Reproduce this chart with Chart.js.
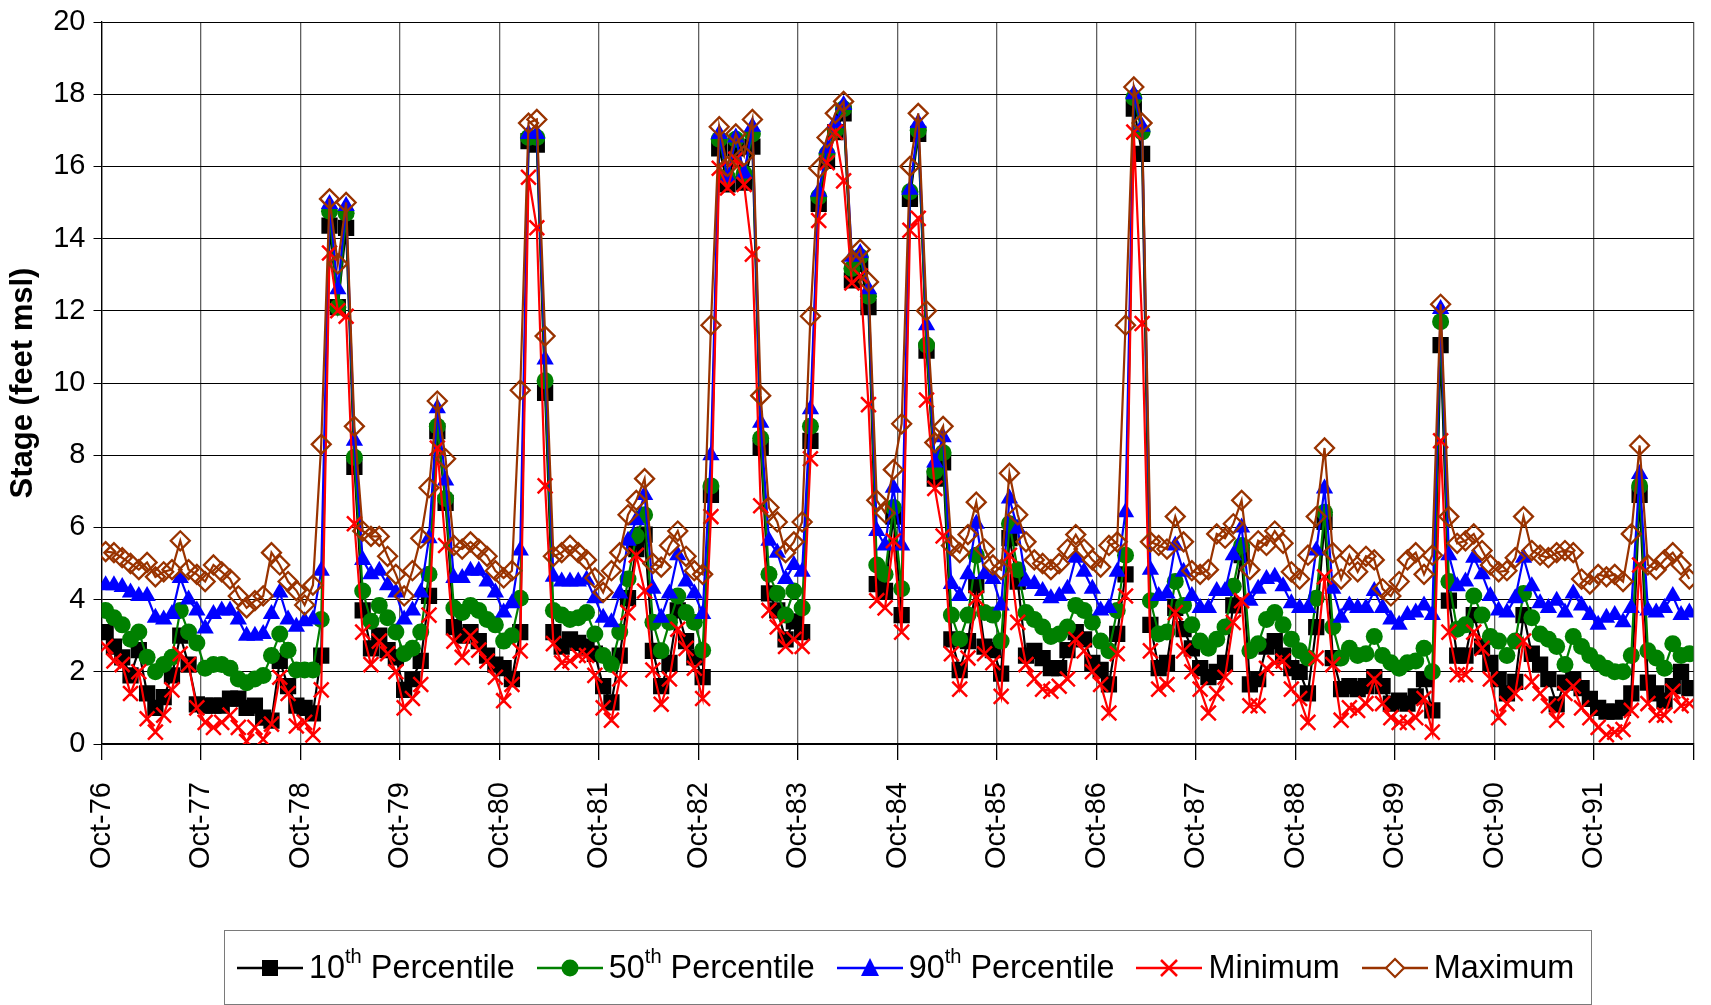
<!DOCTYPE html>
<html>
<head>
<meta charset="utf-8">
<title>Stage percentiles</title>
<script src="https://cdn.jsdelivr.net/npm/chart.js@4.4.0/dist/chart.umd.min.js"></script>
<style>
  html, body { margin: 0; padding: 0; background: #fff; }
  #wrap { position: relative; width: 1711px; height: 1005px; }
  #c { position: absolute; left: 0; top: 0; }
  #legend {
    position: absolute; left: 224px; top: 930px; width: 1368px; height: 75px;
    box-sizing: border-box; border: 1.5px solid #7a7a7a;
    display: flex; align-items: center; padding-left: 12px;
    font-family: 'Liberation Sans', Arial, sans-serif; font-size: 32.4px; color: #000;
  }
  .item { display: flex; align-items: center; margin-right: 22px; white-space: nowrap; }
  .item svg { margin-right: 6px; }
  sup { font-size: 0.62em; position: relative; top: -0.15em; vertical-align: super; line-height: 0; }
</style>
</head>
<body>
<div id="wrap">
  <canvas id="c" width="1711" height="1005"></canvas>
  <div id="legend">
    <div class="item"><svg width="66" height="26"><line x1="0" y1="13" x2="66" y2="13" stroke="#000" stroke-width="2.5"/><rect x="25" y="5" width="16" height="16" fill="#000"/></svg><span>10<sup>th</sup> Percentile</span></div>
    <div class="item"><svg width="66" height="26"><line x1="0" y1="13" x2="66" y2="13" stroke="#008000" stroke-width="2.5"/><circle cx="33" cy="13" r="8.5" fill="#008000"/></svg><span>50<sup>th</sup> Percentile</span></div>
    <div class="item"><svg width="66" height="26"><line x1="0" y1="13" x2="66" y2="13" stroke="#0000ff" stroke-width="2.5"/><polygon points="33,3 42,21 24,21" fill="#0000ff"/></svg><span>90<sup>th</sup> Percentile</span></div>
    <div class="item"><svg width="66" height="26"><line x1="0" y1="13" x2="66" y2="13" stroke="#ff0000" stroke-width="2.5"/><line x1="25" y1="5" x2="41" y2="21" stroke="#ff0000" stroke-width="2.5"/><line x1="25" y1="21" x2="41" y2="5" stroke="#ff0000" stroke-width="2.5"/></svg><span>Minimum</span></div>
    <div class="item"><svg width="66" height="26"><line x1="0" y1="13" x2="24" y2="13" stroke="#993300" stroke-width="2.5"/><line x1="42" y1="13" x2="66" y2="13" stroke="#993300" stroke-width="2.5"/><polygon points="33,4 42,13 33,22 24,13" fill="#fff" stroke="#993300" stroke-width="2.2"/></svg><span>Maximum</span></div>
  </div>
</div>
<script>
// x-axis labels, one per water year (every 12 months)
var tickLabels = ['Oct-76', 'Oct-77', 'Oct-78', 'Oct-79', 'Oct-80', 'Oct-81', 'Oct-82', 'Oct-83',
                  'Oct-84', 'Oct-85', 'Oct-86', 'Oct-87', 'Oct-88', 'Oct-89', 'Oct-90', 'Oct-91'];

// monthly stage, feet msl, Oct-76 .. Sep-92 (one row per year)
var p10 = [
  3.1, 2.7, 2.4, 1.9, 2.6, 1.4, 1.0, 1.3, 1.9, 3.0, 2.2, 1.1,
  1.06, 1.06, 1.06, 1.26, 1.26, 1.0, 1.06, 0.73, 0.65, 2.3, 1.6, 1.06,
  1.0, 0.85, 2.45, 14.36, 12.1, 14.3, 7.68, 3.7, 2.65, 3.0, 2.6, 2.4,
  1.5, 1.8, 2.3, 4.1, 8.67, 6.68, 3.24, 3.0, 3.1, 2.85, 2.45, 2.2,
  2.1, 1.8, 3.1, 16.7, 16.6, 9.73, 3.1, 2.7, 2.9, 2.8, 2.7, 2.5,
  1.6, 1.15, 2.45, 4.04, 5.4, 5.8, 2.58, 1.6, 2.25, 3.7, 2.85, 2.4,
  1.85, 6.9, 16.5, 15.5, 16.5, 15.55, 16.55, 8.2, 4.17, 3.7, 2.9, 3.4,
  3.1, 8.4, 14.96, 16.15, 16.95, 17.47, 12.84, 13.3, 12.1, 4.43, 4.24, 6.3,
  3.57, 15.1, 16.9, 10.9, 7.35, 7.8, 2.9, 2.05, 2.85, 4.4, 2.7, 2.6,
  1.95, 5.7, 4.5, 2.45, 2.58, 2.38, 2.1, 2.1, 2.6, 3.1, 2.9, 2.25,
  2.05, 1.65, 3.05, 4.7, 17.6, 16.35, 3.3, 2.1, 2.25, 3.77, 3.18, 2.65,
  2.1, 1.85, 2.0, 2.25, 3.84, 5.23, 1.65, 1.8, 2.7, 2.85, 2.45, 2.1,
  2.0, 1.4, 3.24, 6.15, 2.38, 1.52, 1.6, 1.52, 1.6, 1.85, 1.6, 1.12,
  1.2, 1.12, 1.32, 1.8, 0.93, 11.05, 3.97, 2.45, 2.45, 3.57, 2.7, 2.25,
  1.8, 1.4, 1.72, 3.57, 2.5, 2.2, 1.8, 1.1, 1.7, 1.8, 1.55, 1.25,
  1.0, 0.9, 0.9, 1.0, 1.4, 6.9, 1.7, 1.4, 1.2, 1.6, 2.0, 1.55
];

var p50 = [
  3.7, 3.5, 3.3, 2.9, 3.1, 2.4, 2.0, 2.2, 2.4, 3.7, 3.1, 2.8,
  2.1, 2.2, 2.2, 2.1, 1.8, 1.7, 1.8, 1.9, 2.45, 3.05, 2.6, 2.05,
  2.05, 2.05, 3.45, 14.76, 12.1, 14.7, 7.94, 4.24, 3.4, 3.84, 3.5, 3.1,
  2.5, 2.65, 3.1, 4.7, 8.8, 6.8, 3.77, 3.64, 3.84, 3.7, 3.45, 3.3,
  2.85, 3.0, 4.04, 16.8, 16.8, 10.06, 3.7, 3.57, 3.45, 3.5, 3.64, 3.05,
  2.45, 2.2, 3.1, 4.57, 5.76, 6.35, 3.37, 2.58, 3.37, 4.1, 3.64, 3.37,
  2.6, 7.15, 16.75, 15.7, 16.75, 15.8, 16.9, 8.47, 4.7, 4.17, 3.57, 4.24,
  3.77, 8.8, 15.16, 16.35, 17.0, 17.6, 13.17, 13.5, 12.4, 4.96, 4.7, 6.55,
  4.3, 15.3, 17.0, 11.05, 7.55, 8.07, 3.57, 2.9, 3.57, 5.23, 3.64, 3.57,
  2.85, 6.1, 4.83, 3.64, 3.45, 3.24, 2.98, 3.05, 3.24, 3.84, 3.7, 3.37,
  2.85, 2.58, 3.7, 5.23, 17.9, 16.95, 3.97, 3.05, 3.1, 4.5, 3.84, 3.3,
  2.85, 2.65, 2.9, 3.24, 4.37, 5.5, 2.58, 2.78, 3.45, 3.64, 3.3, 2.9,
  2.58, 2.38, 4.04, 6.42, 3.24, 2.38, 2.65, 2.45, 2.5, 2.98, 2.45, 2.25,
  2.1, 2.25, 2.3, 2.65, 2.0, 11.7, 4.5, 3.18, 3.3, 4.1, 3.57, 2.98,
  2.85, 2.45, 2.85, 4.17, 3.5, 3.05, 2.9, 2.7, 2.2, 2.98, 2.7, 2.45,
  2.25, 2.1, 2.0, 2.0, 2.45, 7.15, 2.58, 2.38, 2.1, 2.78, 2.45, 2.5
];

var p90 = [
  4.4, 4.4, 4.35, 4.2, 4.1, 4.1, 3.5, 3.45, 3.6, 4.6, 4.0, 3.7,
  3.2, 3.6, 3.7, 3.7, 3.45, 3.0, 3.0, 3.05, 3.6, 4.2, 3.45, 3.25,
  3.4, 3.45, 4.8, 14.96, 12.6, 14.9, 8.4, 5.1, 4.7, 4.8, 4.4, 4.2,
  3.45, 3.7, 4.2, 5.7, 9.3, 7.3, 4.6, 4.6, 4.8, 4.8, 4.5, 4.2,
  3.64, 3.9, 5.36, 16.9, 16.9, 10.65, 4.63, 4.5, 4.5, 4.5, 4.55, 4.04,
  3.5, 3.37, 4.17, 5.63, 6.2, 6.9, 4.3, 3.5, 4.17, 5.23, 4.5, 4.17,
  3.6, 8.0, 16.9, 15.7, 16.8, 15.8, 17.1, 8.9, 5.63, 5.3, 4.57, 4.96,
  4.77, 9.27, 15.3, 16.5, 17.2, 17.7, 13.5, 13.6, 12.6, 5.9, 5.5, 7.1,
  5.5, 15.35, 17.2, 11.6, 7.8, 8.5, 4.43, 4.1, 4.7, 6.1, 4.7, 4.57,
  3.84, 6.8, 5.96, 4.5, 4.43, 4.24, 4.04, 4.1, 4.3, 5.16, 4.77, 4.3,
  3.7, 3.77, 4.77, 6.42, 18.0, 17.1, 4.83, 4.1, 4.17, 5.5, 4.77, 4.1,
  3.77, 3.77, 4.24, 4.24, 5.23, 6.0, 3.97, 4.3, 4.57, 4.63, 4.37, 3.9,
  3.77, 3.77, 5.36, 7.08, 4.3, 3.5, 3.84, 3.77, 3.77, 4.24, 3.77, 3.45,
  3.3, 3.57, 3.64, 3.84, 3.57, 12.05, 5.23, 4.37, 4.5, 5.16, 4.7, 4.1,
  3.7, 3.64, 4.04, 5.16, 4.37, 3.9, 3.77, 3.97, 3.64, 4.17, 3.84, 3.57,
  3.3, 3.5, 3.57, 3.37, 3.77, 7.48, 3.7, 3.64, 3.77, 4.1, 3.57, 3.64
];

var minimum = [
  2.7, 2.3, 2.2, 1.4, 2.0, 0.7, 0.33, 0.8, 1.5, 2.5, 2.2, 1.0,
  0.6, 0.46, 0.6, 0.8, 0.46, 0.07, 0.46, 0.13, 0.55, 1.85, 1.4, 0.5,
  0.6, 0.25, 1.5, 13.6, 12.0, 11.85, 6.1, 3.1, 2.2, 2.85, 2.5, 2.0,
  1.0, 1.26, 1.65, 3.57, 8.2, 5.5, 2.85, 2.4, 3.0, 2.6, 2.3, 1.85,
  1.2, 1.65, 2.58, 15.7, 14.3, 7.15, 2.78, 2.25, 2.3, 2.45, 2.45, 1.9,
  1.0, 0.66, 1.8, 3.64, 5.23, 4.24, 2.05, 1.1, 1.8, 3.18, 2.65, 2.1,
  1.26, 6.3, 15.95, 15.4, 16.2, 15.5, 13.57, 6.6, 3.7, 3.24, 2.7, 2.9,
  2.7, 7.9, 14.5, 16.1, 16.95, 15.6, 12.77, 12.97, 9.4, 3.97, 3.77, 5.63,
  3.1, 14.23, 14.56, 9.53, 7.08, 5.76, 2.5, 1.52, 2.38, 4.04, 2.5, 2.25,
  1.32, 5.23, 3.37, 2.2, 1.8, 1.52, 1.46, 1.6, 1.8, 2.9, 2.58, 2.0,
  1.65, 0.86, 2.5, 4.1, 16.95, 11.65, 2.58, 1.52, 1.65, 3.64, 2.58, 2.0,
  1.52, 0.86, 1.4, 1.85, 3.37, 3.97, 1.06, 1.06, 2.1, 2.25, 2.3, 1.52,
  1.26, 0.6, 2.38, 4.63, 2.2, 0.66, 1.0, 0.93, 1.12, 1.8, 1.12, 0.73,
  0.6, 0.6, 0.73, 1.26, 0.33, 8.4, 3.1, 1.92, 1.92, 3.1, 2.65, 1.8,
  0.73, 1.12, 1.4, 2.85, 1.72, 1.4, 1.06, 0.66, 1.4, 1.6, 1.0, 0.73,
  0.46, 0.26, 0.33, 0.4, 0.93, 4.96, 1.12, 0.8, 0.8, 1.46, 1.06, 1.12
];

var maximum = [
  5.33, 5.3, 5.16, 5.0, 4.83, 5.03, 4.63, 4.77, 4.83, 5.63, 4.83, 4.7,
  4.5, 4.96, 4.77, 4.57, 4.1, 3.77, 3.97, 4.1, 5.3, 4.96, 4.5, 4.25,
  3.85, 4.4, 8.3, 15.1, 13.3, 15.0, 8.8, 5.9, 5.75, 5.75, 5.2, 4.7,
  4.1, 4.8, 5.7, 7.1, 9.5, 7.9, 5.5, 5.4, 5.6, 5.4, 5.2, 4.8,
  4.6, 4.8, 9.8, 17.2, 17.3, 11.3, 5.2, 5.3, 5.5, 5.3, 5.1, 4.6,
  4.2, 4.8, 5.3, 6.35, 6.75, 7.35, 5.0, 4.9, 5.5, 5.9, 5.2, 4.8,
  4.7, 11.6, 17.1, 16.0, 16.9, 16.3, 17.3, 9.65, 6.55, 6.15, 5.3, 5.6,
  6.15, 11.85, 15.95, 16.8, 17.47, 17.8, 13.37, 13.7, 12.8, 6.75, 6.4, 7.6,
  8.87, 16.0, 17.47, 12.0, 8.35, 8.8, 5.5, 5.3, 5.8, 6.7, 5.4, 4.96,
  4.83, 7.5, 6.35, 5.6, 5.1, 5.0, 4.83, 5.0, 5.4, 5.8, 5.4, 5.1,
  4.9, 5.5, 5.6, 11.6, 18.2, 17.2, 5.6, 5.5, 5.4, 6.3, 5.6, 4.8,
  4.7, 4.83, 5.82, 5.7, 6.1, 6.75, 4.83, 5.63, 5.5, 5.9, 5.56, 4.77,
  4.57, 5.23, 6.3, 8.2, 5.3, 4.57, 5.23, 4.77, 5.2, 5.1, 4.3, 4.1,
  4.5, 5.1, 5.3, 4.7, 5.23, 12.18, 6.3, 5.56, 5.63, 5.82, 5.36, 4.96,
  4.77, 4.8, 5.16, 6.3, 5.36, 5.23, 5.16, 5.3, 5.36, 5.3, 4.57, 4.43,
  4.7, 4.63, 4.7, 4.5, 5.82, 8.27, 4.96, 4.83, 5.1, 5.3, 4.96, 4.57
];

// months sit in the middle of their slot on the time axis
function monthly(values) {
  return values.map(function (v, i) { return { x: i + 0.5, y: v }; });
}

var fontFamily = "'Liberation Sans', Arial, sans-serif";

var chart = new Chart(document.getElementById('c'), {
  type: 'line',
  data: {
    datasets: [
      {
        label: '10th Percentile', data: monthly(p10), order: 5,
        borderColor: '#000000', backgroundColor: '#000000', borderWidth: 2.2,
        pointStyle: 'rect', pointRadius: 11.5, pointBorderWidth: 0
      },
      {
        label: '50th Percentile', data: monthly(p50), order: 4,
        borderColor: '#008000', backgroundColor: '#008000', borderWidth: 2.2,
        pointStyle: 'circle', pointRadius: 8.5, pointBorderWidth: 0
      },
      {
        label: '90th Percentile', data: monthly(p90), order: 3,
        borderColor: '#0000ff', backgroundColor: '#0000ff', borderWidth: 2.2,
        pointStyle: 'triangle', pointRadius: 10, pointBorderWidth: 0
      },
      {
        label: 'Minimum', data: monthly(minimum), order: 2,
        borderColor: '#ff0000', backgroundColor: '#ff0000', borderWidth: 2.2,
        pointStyle: 'crossRot', pointRadius: 10.5, pointBorderWidth: 2.5
      },
      {
        label: 'Maximum', data: monthly(maximum), order: 1,
        borderColor: '#993300', backgroundColor: 'rgba(255,255,255,0)', borderWidth: 2.2,
        pointStyle: 'rectRot', pointRadius: 9.5, pointBorderWidth: 2.3
      }
    ]
  },
  options: {
    responsive: false,
    animation: false,
    layout: { padding: { top: 22, right: 17.5, bottom: 0, left: 0 } },
    plugins: {
      legend: { display: false },
      tooltip: { enabled: false }
    },
    elements: { line: { tension: 0 } },
    scales: {
      x: {
        type: 'linear', min: 0, max: 192,
        ticks: {
          stepSize: 12, autoSkip: false, minRotation: 90, maxRotation: 90,
          padding: 22, color: '#000',
          font: { family: fontFamily, size: 29 },
          callback: function (v) { return tickLabels[v / 12] || ''; }
        },
        grid: { color: '#606060', lineWidth: 1.3, tickLength: 16, tickColor: '#000' },
        border: { color: '#000', width: 1.3 },
        afterFit: function (scale) {
          scale.height = 1005 - 744;
          scale.paddingLeft = 0;
          scale.paddingRight = 0;
        }
      },
      y: {
        min: 0, max: 20,
        ticks: {
          stepSize: 2, padding: 8, color: '#000',
          font: { family: fontFamily, size: 29 }
        },
        grid: { color: '#000', lineWidth: 1, tickLength: 8 },
        border: { color: '#000', width: 1.3 },
        title: {
          display: true, text: 'Stage (feet msl)', color: '#000',
          font: { family: fontFamily, size: 31, weight: 'bold' },
          padding: { top: 5, bottom: 0 }
        },
        afterFit: function (scale) {
          scale.width = 101.5;
          scale.paddingTop = 0;
          scale.paddingBottom = 0;
        }
      }
    }
  }
});
</script>
</body>
</html>
